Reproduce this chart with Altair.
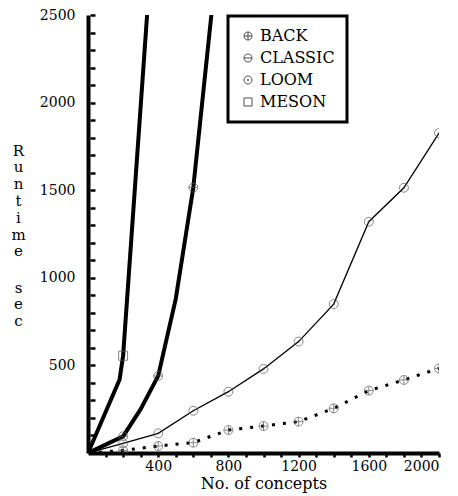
import altair as alt
import pandas as pd

series_names = ["BACK", "CLASSIC", "LOOM", "MESON"]

meson_x = [0, 180, 200, 400]
meson_y = [0, 420, 555, 3400]
meson_marked = [0, 0, 1, 0]

classic_x = [0, 200, 300, 400, 500, 600, 800]
classic_y = [0, 95, 250, 440, 880, 1515, 3430]
classic_marked = [0, 1, 0, 1, 0, 1, 0]

loom_x = [0, 200, 400, 600, 800, 1000, 1200, 1400, 1600, 1800, 2000]
loom_y = [0, 55, 112, 241, 350, 480, 636, 850, 1320, 1514, 1826]
loom_marked = [0, 1, 1, 1, 1, 1, 1, 1, 1, 1, 1]

back_x = [0, 200, 400, 600, 800, 1000, 1200, 1400, 1600, 1800, 2000]
back_y = [0, 15, 40, 59, 131, 154, 179, 255, 356, 417, 483]
back_marked = [0, 1, 1, 1, 1, 1, 1, 1, 1, 1, 1]

x_ticks = list(range(100, 2001, 100))
y_ticks = list(range(100, 2501, 100))
y_labels = [500, 1000, 1500, 2000, 2500]

rows = []
for name, xs, ys, ms in [("MESON", meson_x, meson_y, meson_marked),
                         ("CLASSIC", classic_x, classic_y, classic_marked),
                         ("LOOM", loom_x, loom_y, loom_marked),
                         ("BACK", back_x, back_y, back_marked)]:
    for i, (a, b, m) in enumerate(zip(xs, ys, ms)):
        rows.append({"series": name, "x": a, "y": b, "marked": m, "order": i})
df = pd.DataFrame(rows)

FONT = "DejaVu Serif"

xscale = alt.Scale(domain=[0, 2000], nice=False, zero=True)
yscale = alt.Scale(domain=[0, 2500], nice=False, zero=True)

x_axis = alt.Axis(values=x_ticks, labelExpr="datum.value % 400 == 0 ? datum.label : ''",
                  format="d", domainWidth=4, domainColor="black", tickColor="black",
                  tickWidth=2.5, tickSize=4, labelFont=FONT, labelFontSize=14,
                  labelColor="black", labelPadding=2, grid=False,
                  title="No. of concepts", titleFont=FONT, titleFontSize=16,
                  titleFontWeight="normal", titleColor="black", titlePadding=2)

y_axis_main = alt.Axis(values=y_labels, format="d", orient="left", domainWidth=4,
                       domainColor="black", ticks=False, tickSize=0, labelFont=FONT,
                       labelFontSize=14, labelColor="black", labelPadding=13, grid=False,
                       title=["R", "u", "n", "t", "i", "m", "e"],
                       titleAngle=0, titleAlign="center", titleBaseline="top",
                       titleX=-70, titleY=128, titleFont=FONT, titleFontSize=15,
                       titleFontWeight="normal", titleColor="black", titleLineHeight=16.8)

y_axis_ticks = alt.Axis(values=y_ticks, orient="left", domain=False, labels=False,
                        tickColor="black", tickWidth=2.5, tickSize=5, offset=-7,
                        grid=False, title=["s", "e", "c"],
                        titleAngle=0, titleAlign="center", titleBaseline="top",
                        titleX=-77, titleY=265, titleFont=FONT, titleFontSize=15,
                        titleFontWeight="normal", titleColor="black", titleLineHeight=16.8)

X = alt.X("x:Q", scale=xscale, axis=x_axis)

base = alt.Chart(df)

thick = base.transform_filter(
    alt.FieldOneOfPredicate(field="series", oneOf=["MESON", "CLASSIC"])
).mark_line(color="black", strokeWidth=4, clip=True).encode(
    x=X,
    y=alt.Y("y:Q", scale=yscale, axis=y_axis_main),
    detail="series:N",
    order="order:Q",
)

thin = base.transform_filter(alt.datum.series == "LOOM").mark_line(
    color="black", strokeWidth=1.3, clip=True).encode(
    x=X,
    y=alt.Y("y:Q", scale=yscale, axis=None),
    order="order:Q",
)

dotted = base.transform_filter(alt.datum.series == "BACK").mark_line(
    color="black", strokeWidth=3, strokeDash=[3, 8], clip=True).encode(
    x=X,
    y=alt.Y("y:Q", scale=yscale, axis=None),
    order="order:Q",
)

plus_c = "M-1,0A1,1,0,1,1,1,0A1,1,0,1,1,-1,0Z M-1,0L1,0 M0,-1L0,1"
minus_c = "M-1,0A1,1,0,1,1,1,0A1,1,0,1,1,-1,0Z M-1,0L1,0"
dot_c = "M-1,0A1,1,0,1,1,1,0A1,1,0,1,1,-1,0Z M-0.18,0A0.18,0.18,0,1,1,0.18,0A0.18,0.18,0,1,1,-0.18,0Z"

points = base.transform_filter(alt.datum.marked == 1).mark_point(
    filled=False, color="#555555", strokeWidth=1, size=80, clip=True).encode(
    x=X,
    y=alt.Y("y:Q", scale=yscale, axis=y_axis_ticks),
    shape=alt.Shape("series:N",
                    scale=alt.Scale(domain=series_names,
                                    range=[plus_c, minus_c, dot_c, "square"]),
                    legend=alt.Legend(orient="none", legendX=140, legendY=1, title=None,
                                      labelFont=FONT, labelFontSize=16, labelColor="black",
                                      symbolStrokeColor="black", symbolStrokeWidth=1,
                                      symbolSize=64, rowPadding=6, labelOffset=4,
                                      padding=12, fillColor="white",
                                      strokeColor="black")),
)

chart = alt.layer(thick, thin, dotted, points).resolve_axis(y="independent").properties(
    width=351, height=438,
    autosize=alt.AutoSizeParams(type="none"),
    padding={"left": 80, "top": 7, "right": 11, "bottom": 42},
    background="white",
).configure_view(strokeWidth=0).configure_legend(strokeWidth=3)

chart.save("out.html", embed_options={"renderer": "svg", "actions": False})
